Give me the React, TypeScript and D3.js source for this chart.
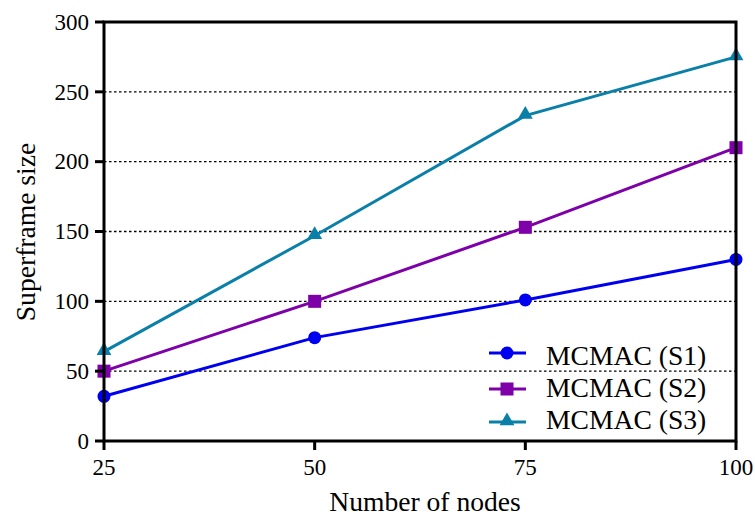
import React from "react";
import * as d3 from "d3";

const nodes = [25, 50, 75, 100];
const s1 = [32, 74, 101, 130];
const s2 = [50, 100, 153, 210];
const s3 = [64, 147, 233, 275];
const yTicks = [0, 50, 100, 150, 200, 250, 300];
const seriesNames = ["MCMAC (S1)", "MCMAC (S2)", "MCMAC (S3)"];

const series = [
  { name: seriesNames[0], values: s1, color: "#0000f0", shape: "circle" },
  { name: seriesNames[1], values: s2, color: "#7d00a8", shape: "square" },
  { name: seriesNames[2], values: s3, color: "#0a80a8", shape: "triangle" },
];

const family = "Liberation Serif, serif";
const tickTxt = { fontFamily: family, fontSize: 23 };
const bigTxt = { fontFamily: family, fontSize: 27.6 };

function Marker({ shape, x, y, color }: { shape: string; x: number; y: number; color: string }) {
  if (shape === "circle") return <circle cx={x} cy={y} r={6.5} fill={color} />;
  if (shape === "square") return <rect x={x - 6.5} y={y - 6.5} width={13} height={13} fill={color} />;
  const sym = d3.symbol().type(d3.symbolTriangle).size(95)();
  return <path d={sym || ""} transform={`translate(${x},${y - 1})`} fill={color} />;
}

export default function App() {
  const width = 755;
  const height = 518;
  const margin = { left: 104, right: 19, top: 22, bottom: 77 };
  const x = d3.scaleLinear().domain([25, 100]).range([margin.left, width - margin.right]);
  const y = d3.scaleLinear().domain([0, 300]).range([height - margin.bottom, margin.top]);
  const line = d3.line<number>().x((_, i) => x(nodes[i])).y((d) => y(d));
  const x0 = x(25), x1 = x(100), yb = y(0), yt = y(300);
  const legendY = [353, 389, 422];
  const legendBase = [365, 397, 429];

  return (
    <svg width={width} height={height} style={{ position: "absolute", left: 0, top: 0, background: "#fff" }}>
      {yTicks.slice(1, -1).map((t) => (
        <line key={t} x1={x0} x2={x1} y1={y(t)} y2={y(t)} stroke="#000" strokeWidth={1.3} strokeDasharray="2.5,2.5" />
      ))}
      {series.map((s) => (
        <path key={s.name} d={line(s.values) || ""} fill="none" stroke={s.color} strokeWidth={3} />
      ))}
      {series.map((s) =>
        s.values.map((v, i) => <Marker key={s.name + i} shape={s.shape} x={x(nodes[i])} y={y(v)} color={s.color} />)
      )}
      {/* frame */}
      <path d={`M${x0},${yt}H${x1}V${yb}H${x0}Z`} fill="none" stroke="#000" strokeWidth={3} />
      {yTicks.map((t) => (
        <g key={t}>
          <line x1={x0 - 9} x2={x0} y1={y(t)} y2={y(t)} stroke="#000" strokeWidth={3} />
          <text x={x0 - 15} y={y(t)} dy="0.34em" textAnchor="end" style={tickTxt} fill="#000">
            {t}
          </text>
        </g>
      ))}
      {nodes.map((n) => (
        <g key={n}>
          <line x1={x(n)} x2={x(n)} y1={yb} y2={yb + 9} stroke="#000" strokeWidth={3} />
          <text x={x(n)} y={yb + 34} textAnchor="middle" style={tickTxt} fill="#000">
            {n}
          </text>
        </g>
      ))}
      <text x={425} y={511} textAnchor="middle" style={bigTxt} fill="#000">
        Number of nodes
      </text>
      <text transform={`translate(35,232) rotate(-90)`} textAnchor="middle" style={bigTxt} fill="#000">
        Superframe size
      </text>
      {series.map((s, i) => (
        <g key={s.name}>
          <line x1={489} x2={526} y1={legendY[i]} y2={legendY[i]} stroke={s.color} strokeWidth={3} />
          <Marker shape={s.shape} x={507} y={legendY[i]} color={s.color} />
          <text x={546} y={legendBase[i]} style={bigTxt} fill="#000">
            {s.name}
          </text>
        </g>
      ))}
    </svg>
  );
}
